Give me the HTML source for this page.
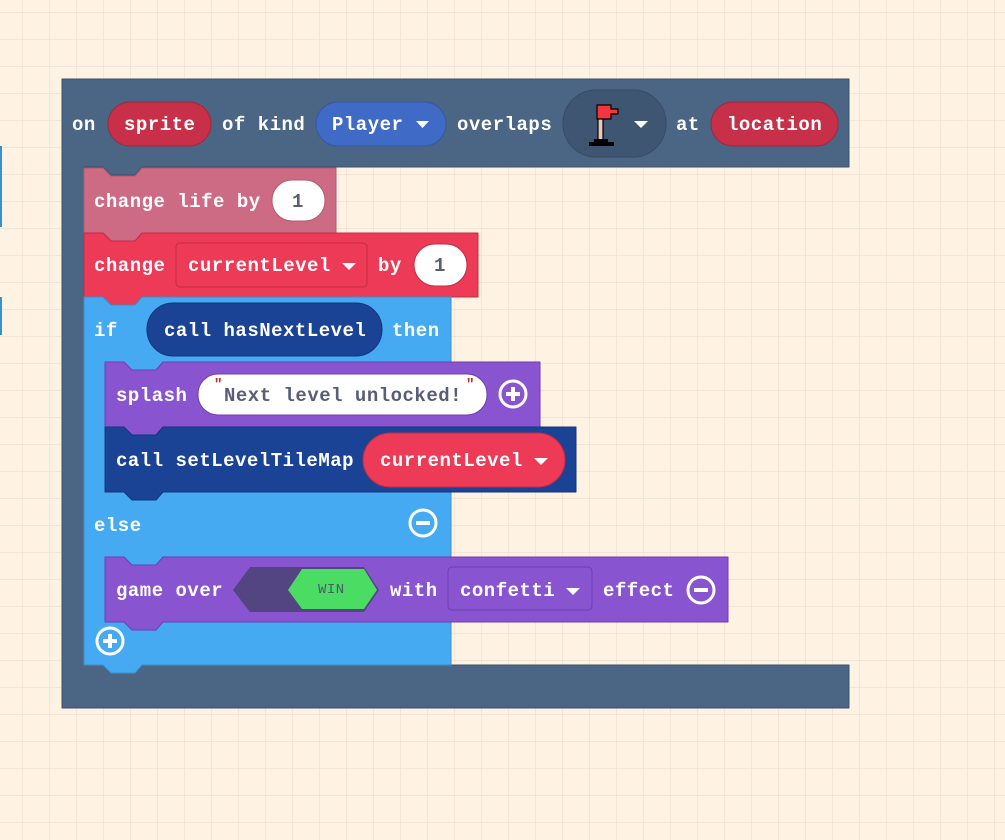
<!DOCTYPE html>
<html><head><meta charset="utf-8"><style>
html,body{margin:0;padding:0;width:1005px;height:840px;overflow:hidden;background:#fef3e2;}
svg{display:block}
text{font-family:"Liberation Mono",monospace;font-weight:bold;font-size:19px;letter-spacing:0.5px;fill:#fff;dominant-baseline:central}
</style></head><body>
<svg width="1005" height="840" viewBox="0 0 1005 840">
<defs><pattern id="g" x="22" y="12" width="27" height="27" patternUnits="userSpaceOnUse"><path d="M0 0H27M0 0V27" stroke="#efdccb" stroke-width="1.2" fill="none"/></pattern></defs>
<rect width="1005" height="840" fill="url(#g)"/>
<rect x="0" y="146" width="2" height="81" fill="#3a8fcc"/>
<rect x="0" y="297" width="2" height="38" fill="#3a8fcc"/>
<g stroke-linejoin="round">
<path d="M62,79 L849,79 L849,167 L142,167 L135,175 L111,175 L103,167 L84,167 L84,665 L849,665 L849,708 L62,708 Z" fill="#4b6584" stroke="#3c5069" stroke-width="1"/>
<path d="M84,168 L103,168 L111,176 L135,176 L142,168 L336,168 L336,233 L142,233 L135,241 L111,241 L103,233 L84,233 Z" fill="#cd6a84" stroke="#b35a70"/>
<path d="M84,233 L103,233 L111,241 L135,241 L142,233 L478,233 L478,297 L142,297 L135,305 L111,305 L103,297 L84,297 Z" fill="#ed3a56" stroke="#c32b44"/>
<path d="M84,297 L103,297 L111,305 L135,305 L142,297 L451,297 L451,362 L163,362 L156,370 L132,370 L124,362 L105,362 L105,492 L451,492 L451,557 L163,557 L156,565 L132,565 L124,557 L105,557 L105,622 L451,622 L451,665 L142,665 L135,673 L111,673 L103,665 L84,665 Z" fill="#45aaf2" stroke="#3a8fcc"/>
<path d="M105,362 L124,362 L132,370 L156,370 L163,362 L540,362 L540,427 L163,427 L156,435 L132,435 L124,427 L105,427 Z" fill="#8854d0" stroke="#6e3fb0"/>
<path d="M105,427 L124,427 L132,435 L156,435 L163,427 L576,427 L576,492 L163,492 L156,500 L132,500 L124,492 L105,492 Z" fill="#1a4396" stroke="#12367d"/>
<path d="M105,557 L124,557 L132,565 L156,565 L163,557 L728,557 L728,622 L163,622 L156,630 L132,630 L124,622 L105,622 Z" fill="#8854d0" stroke="#6e3fb0"/>
</g>
<g transform="translate(0,1)">
<text x="72" y="124">on</text>
<rect x="108" y="101" width="103" height="44" rx="22" fill="#c8304a" stroke="#a0283c"/>
<text x="124" y="124">sprite</text>
<text x="222" y="124">of kind</text>
<rect x="316" y="101" width="130" height="44" rx="22" fill="#3f6ac6" stroke="#35589f"/>
<text x="332" y="124">Player</text>
<path d="M416,120 L429,120 L422.5,127 Z" fill="#fff"/>
<text x="457" y="124">overlaps</text>
<rect x="563" y="89" width="103" height="67" rx="33" fill="#3f5672" stroke="#384b63"/>
<rect x="598" y="114" width="5" height="25" fill="#e8c8c0" stroke="#000" stroke-width="1.2"/>
<path d="M597,104 L611,104 L611,108 L618,108 L618,113 L611,113 L611,118 L597,118 Z" fill="#f3353e" stroke="#000" stroke-width="1.2"/>
<rect x="594" y="138" width="14" height="3" fill="#000"/>
<rect x="589" y="141" width="25" height="4" fill="#000"/>
<path d="M634,120 L648,120 L641,127 Z" fill="#fff"/>
<text x="676" y="124">at</text>
<rect x="711" y="101" width="127" height="44" rx="22" fill="#c8304a" stroke="#a0283c"/>
<text x="727" y="124">location</text>
<text x="94" y="201">change life by</text>
<rect x="272" y="179" width="53" height="41" rx="20" fill="#fff" stroke="#b35a70"/>
<text x="298" y="201" text-anchor="middle" style="fill:#575e75">1</text>
<text x="94" y="265">change</text>
<rect x="176" y="242" width="191" height="44" rx="4" fill="#ed3a56" stroke="#c32b44"/>
<text x="188" y="265">currentLevel</text>
<path d="M342,262 L356,262 L349,269 Z" fill="#fff"/>
<text x="378" y="265">by</text>
<rect x="414" y="243" width="53" height="42" rx="21" fill="#fff" stroke="#c32b44"/>
<text x="440" y="265" text-anchor="middle" style="fill:#575e75">1</text>
<text x="94" y="330">if</text>
<rect x="147" y="302" width="235" height="53" rx="26" fill="#1a4396" stroke="#12367d"/>
<text x="164" y="330">call hasNextLevel</text>
<text x="392" y="330">then</text>
<text x="116" y="395">splash</text>
<rect x="198" y="373" width="289" height="41" rx="20" fill="#fff" stroke="#6e3fb0"/>
<text x="214" y="384" style="fill:#c0282c;font-size:14px">"</text>
<text x="466" y="384" style="fill:#c0282c;font-size:14px">"</text>
<text x="224" y="395" style="fill:#575e75">Next level unlocked!</text>
<circle cx="513" cy="393" r="13" fill="none" stroke="#fff" stroke-width="3"/>
<path d="M513,386 V400 M506,393 H520" stroke="#fff" stroke-width="4"/>
<text x="116" y="460">call setLevelTileMap</text>
<rect x="363" y="432" width="202" height="54" rx="27" fill="#ed3a56" stroke="#c32b44"/>
<text x="380" y="460">currentLevel</text>
<path d="M534,457 L548,457 L541,464 Z" fill="#fff"/>
<text x="94" y="525">else</text>
<circle cx="423" cy="522" r="13" fill="none" stroke="#fff" stroke-width="3"/>
<path d="M416,522 H430" stroke="#fff" stroke-width="4"/>
<text x="116" y="590">game over</text>
<polygon points="233,589 250,566 364,566 379,589 364,611 250,611" fill="#524582"/>
<polygon points="288,589 302,568 364,568 377,589 364,608 302,608" fill="#4bdc63"/>
<text x="318" y="589" style="font-size:14px;font-weight:normal;fill:#4c5a6e;letter-spacing:0.5px">WIN</text>
<text x="390" y="590">with</text>
<rect x="448" y="566" width="144" height="43" rx="4" fill="#8854d0" stroke="#6e3fb0"/>
<text x="460" y="590">confetti</text>
<path d="M566,587 L580,587 L573,594 Z" fill="#fff"/>
<text x="603" y="590">effect</text>
<circle cx="701" cy="589" r="13" fill="none" stroke="#fff" stroke-width="3"/>
<path d="M694,589 H708" stroke="#fff" stroke-width="4"/>
<circle cx="110" cy="640" r="13" fill="none" stroke="#fff" stroke-width="3"/>
<path d="M110,633 V647 M103,640 H117" stroke="#fff" stroke-width="4"/>
</g>
</svg>
</body></html>
